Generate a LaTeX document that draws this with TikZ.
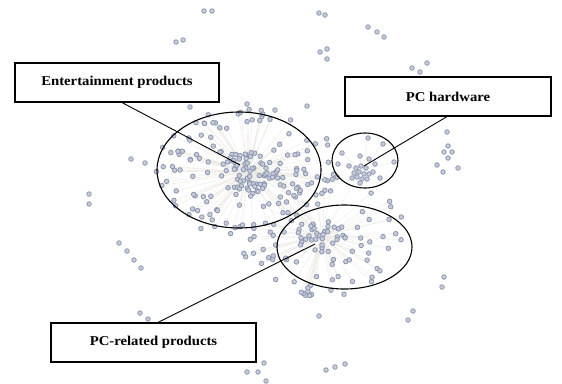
\documentclass[tikz,border=0pt]{standalone}
\usepackage{fontspec}
\setmainfont{Liberation Serif}[FakeStretch=1.09]
\usetikzlibrary{shapes.geometric,calc}
\definecolor{dotfill}{RGB}{198,203,218}
\definecolor{dotedge}{RGB}{138,148,175}
\definecolor{edgec}{RGB}{236,234,228}
\tikzset{
  labelbox/.style={draw, line width=1.1pt, minimum width=205pt, minimum height=39pt, inner sep=0pt, font=\fontsize{13.5}{15}\selectfont\bfseries},
  ring/.style={draw, ellipse, line width=1.1pt, inner sep=0pt},
  link/.style={line width=0.9pt},
  dotc/.style={fill=dotfill, draw=dotedge, line width=0.75pt},
  faint/.style={draw=edgec, line width=0.4pt}
}
\newcommand{\dotrad}{2.3}
\begin{document}
\begin{tikzpicture}[x=1pt,y=-1pt]
\useasboundingbox (0,0) rectangle (562,383);
\fill[white] (0,0) rectangle (562,383);
% cluster cores
\coordinate (ecore) at (248,172);
\coordinate (rcore) at (322,236);
\coordinate (hcore) at (361,171);
% faint edges
\draw[faint] (ecore) -- (rcore);
\draw[faint] (rcore) -- (hcore);
\pgfmathsetseed{11}
\foreach \i in {1,...,190}{
  \pgfmathsetmacro\ang{360*rnd}
  \pgfmathsetmacro\rr{ifthenelse(\i<70, 0.36*sqrt(rnd), 0.3+0.8*sqrt(rnd))}
  \draw[faint] (ecore) -- ({248+84*\rr*cos(\ang)},{172+60*\rr*sin(\ang)});
}
\pgfmathsetseed{23}
\foreach \i in {1,...,110}{
  \pgfmathsetmacro\ang{360*rnd}
  \pgfmathsetmacro\rr{ifthenelse(\i<38, 0.32*sqrt(rnd), 0.28+0.82*sqrt(rnd))}
  \draw[faint] (rcore) -- ({322+78*\rr*cos(\ang)},{236+55*\rr*sin(\ang)});
}
\foreach \px/\py in {368/138,383/144,342/153,360/156,369/159,338/164,349/166,375/164,394/162,380/178,373/172}{
  \draw[faint] (hcore) -- (\px,\py);
}
% dots
\pgfmathsetseed{11}
\foreach \i in {1,...,190}{
  \pgfmathsetmacro\ang{360*rnd}
  \pgfmathsetmacro\rr{ifthenelse(\i<70, 0.36*sqrt(rnd), 0.3+0.8*sqrt(rnd))}
  \filldraw[dotc] ({248+84*\rr*cos(\ang)},{172+60*\rr*sin(\ang)}) circle[radius=\dotrad];
}
\pgfmathsetseed{23}
\foreach \i in {1,...,110}{
  \pgfmathsetmacro\ang{360*rnd}
  \pgfmathsetmacro\rr{ifthenelse(\i<38, 0.32*sqrt(rnd), 0.28+0.82*sqrt(rnd))}
  \filldraw[dotc] ({322+78*\rr*cos(\ang)},{236+55*\rr*sin(\ang)}) circle[radius=\dotrad];
}
% PC hardware cluster
\foreach \px/\py in {368/138,383/144,342/153,360/156,369/159,338/164,349/166,375/164,394/162,380/178,373/172,
  356/168,361/166,366/168,354/173,359/172,364/174,369/174,357/177,362/179,352/178,367/179,360/183}{
  \filldraw[dotc] (\px,\py) circle[radius=\dotrad];
}
% isolated dots
\foreach \px/\py in {204/11,212/11,176/42,183/40,190/107,247/104,131/159,145/163,
  319/13,325/15,368/27,377/32,384/37,320/52,327/49,327/59,412/68,420/72,427/63,307/106,
  447/132,448/146,444/152,452/152,448/158,437/165,443/172,458/168,
  89/194,89/204,119/243,127/251,134/260,141/268,140/313,148/319,264/363,247/372,258/372,266/381,
  444/277,442/287,413/311,408/320,319/316,326/370,335/367,345/364}{
  \filldraw[dotc] (\px,\py) circle[radius=\dotrad];
}
% ellipses
\node[ring, minimum width=164pt, minimum height=116pt] (ent) at (239,170) {};
\node[ring, minimum width=66pt, minimum height=55pt] (hw) at (365,160.5) {};
\node[ring, minimum width=135pt, minimum height=84pt] (rel) at (344.5,247) {};
% label boxes
\node[labelbox, minimum width=204pt] (entlab) at (117,82.5) {Entertainment products};
\node[labelbox, minimum width=206pt] (hwlab) at (448,96.5) {PC hardware};
\node[labelbox, minimum width=205pt] (rellab) at (153.5,342.5) {PC-related products};
% connector ends
\coordinate (entend) at (240,165);
\coordinate (hwend) at (364,166);
\coordinate (relend) at (315,244);
\draw[link] ([xshift=5pt]entlab.south) -- (entend);
\draw[link] ([xshift=-1pt]hwlab.south) -- (hwend);
\draw[link] ([xshift=4.5pt]rellab.north) -- (relend);
\end{tikzpicture}
\end{document}
